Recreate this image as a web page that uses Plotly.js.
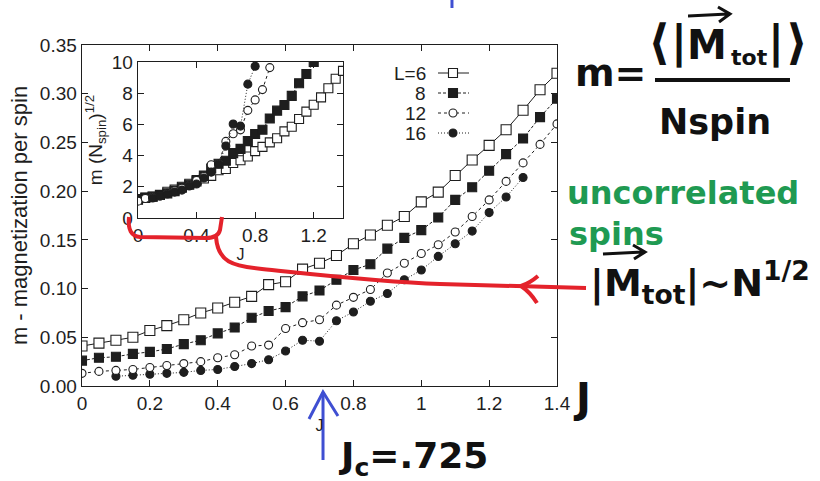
<!DOCTYPE html>
<html><head><meta charset="utf-8">
<script src="https://cdn.plot.ly/plotly-3.0.1.min.js"></script>
<style>html,body{margin:0;padding:0;background:#fff}#chart{width:820px;height:481px}</style>
</head><body><div id="chart"></div>
<script>
// ---- main plot data: m (magnetization per spin) vs J ----
const J = [0,0.05,0.1,0.15,0.2,0.25,0.3,0.35,0.4,0.45,0.5,0.55,0.6,0.65,0.7,0.75,0.8,0.85,0.9,0.95,1.0,1.05,1.1,1.15,1.2,1.25,1.3,1.35,1.4];
const m_L6  = [0.041,0.044,0.047,0.050,0.057,0.062,0.068,0.075,0.080,0.086,0.092,0.104,0.107,0.120,0.126,0.134,0.146,0.155,0.165,0.174,0.189,0.199,0.216,0.232,0.247,0.263,0.283,0.304,0.321];
const m_L8  = [0.026,0.029,0.030,0.033,0.035,0.038,0.043,0.047,0.054,0.060,0.070,0.077,0.081,0.092,0.098,0.109,0.119,0.125,0.141,0.152,0.160,0.173,0.191,0.204,0.221,0.238,0.254,0.276,0.295];
const m_L12 = [0.013,0.015,0.016,0.017,0.019,0.021,0.023,0.025,0.029,0.032,0.041,0.042,0.059,0.065,0.068,0.083,0.091,0.099,0.116,0.126,0.136,0.145,0.158,0.174,0.191,0.210,0.229,0.248,0.269];
const J_L16 = [0.1,0.15,0.2,0.25,0.3,0.35,0.4,0.45,0.5,0.55,0.6,0.65,0.7,0.75,0.8,0.85,0.9,0.95,1.0,1.05,1.1,1.15,1.2,1.25,1.3];
const m_L16 = [0.010,0.011,0.012,0.013,0.014,0.016,0.017,0.020,0.023,0.027,0.036,0.047,0.046,0.067,0.076,0.087,0.095,0.109,0.119,0.133,0.146,0.159,0.178,0.194,0.214];

// ---- inset data: m (N_spin)^1/2 vs J ----
const Jin_L6  = [0,0.05,0.1,0.15,0.2,0.25,0.3,0.35,0.4,0.45,0.5,0.55,0.6,0.65,0.7,0.75,0.8,0.85,0.9,0.95,1.0,1.05,1.1,1.15,1.2,1.25,1.3,1.35,1.4];
const in_L6   = [1.21,1.29,1.38,1.47,1.68,1.82,2.00,2.20,2.35,2.53,2.70,3.06,3.14,3.53,3.70,3.94,4.29,4.56,4.85,5.11,5.55,5.85,6.35,6.82,7.26,7.73,8.32,8.93,9.43];
const Jin_L8  = [0,0.05,0.1,0.15,0.2,0.25,0.3,0.35,0.4,0.45,0.5,0.55,0.6,0.65,0.7,0.75,0.8,0.85,0.9,0.95,1.0,1.05,1.1,1.15,1.2];
const in_L8   = [1.18,1.31,1.36,1.49,1.58,1.72,1.95,2.13,2.44,2.72,3.17,3.48,3.67,4.16,4.43,4.93,5.38,5.66,6.38,6.88,7.24,7.83,8.64,9.23,10.0];
const Jin_L12 = [0,0.05,0.1,0.15,0.2,0.25,0.3,0.35,0.4,0.45,0.5,0.55,0.6,0.65,0.7,0.75,0.8,0.85,0.9];
const in_L12  = [1.08,1.25,1.33,1.41,1.58,1.75,1.91,2.08,2.41,2.66,3.41,3.49,4.91,5.40,5.65,6.90,7.57,8.23,9.64];
const Jin_L16 = [0.1,0.15,0.2,0.25,0.3,0.35,0.4,0.45,0.5,0.55,0.6,0.65,0.7,0.75,0.8];
const in_L16  = [1.28,1.41,1.54,1.66,1.79,2.05,2.18,2.56,2.94,3.46,4.61,6.02,5.89,8.58,9.73];

// ---- tick labels ----
const xTickVals = [0,0.2,0.4,0.6,0.8,1.0,1.2,1.4];
const xTickText = ['0','0.2','0.4','0.6','0.8','1','1.2','1.4'];
const yTickVals = [0,0.05,0.1,0.15,0.2,0.25,0.3,0.35];
const yTickText = ['0.00','0.05','0.10','0.15','0.20','0.25','0.30','0.35'];
const inXTickVals = [0,0.4,0.8,1.2];
const inXTickText = ['0','0.4','0.8','1.2'];
const inYTickVals = [0,2,4,6,8,10];
const inYTickText = ['0','2','4','6','8','10'];
const legendLabels = ['L=6','8','12','16'];

// ---- styling ----
const INK = '#1e1e1e';
const RED = '#e4222b', BLUE = '#3f4fd2', GREEN = '#1f9a52';
const HAND = 'DejaVu Sans';
const SANS = 'Liberation Sans, Arial, sans-serif';
const styles = [
  {dash:'solid', symbol:'square', fill:'#ffffff', size:10},
  {dash:'3px,2px', symbol:'square', fill:INK, size:9},
  {dash:'dot', symbol:'circle', fill:'#ffffff', size:8},
  {dash:'1px,2px', symbol:'circle', fill:INK, size:8}
];

// pixel -> paper helpers (plot area 82..557 x 45..386)
const PL=82, PR=557, PT=45, PB=386;
const px = x => (x-PL)/(PR-PL);
const py = y => (PB-y)/(PB-PT);
function path(segs){
  return segs.map(s=>{let o=s[0];for(let i=1;i<s.length;i+=2){o+=' '+px(s[i]).toFixed(4)+','+py(s[i+1]).toFixed(4);}return o;}).join(' ');
}

function mk(x,y,st,xa,ya,msize){
  return {x:x,y:y,xaxis:xa,yaxis:ya,type:'scatter',mode:'lines+markers',showlegend:false,
    line:{color:INK,width:1,dash:st.dash},
    marker:{symbol:st.symbol,size:msize||st.size,color:st.fill,line:{color:INK,width:1.1}},
    cliponaxis:true, hoverinfo:'skip'};
}
const traces = [
  mk(J_L16,m_L16,styles[3],'x','y'), mk(J,m_L12,styles[2],'x','y'),
  mk(J,m_L8,styles[1],'x','y'), mk(J,m_L6,styles[0],'x','y'),
  mk(Jin_L6,in_L6,styles[0],'x2','y2',9), mk(Jin_L8,in_L8,styles[1],'x2','y2',9),
  mk(Jin_L12,in_L12,styles[2],'x2','y2',8), mk(Jin_L16,in_L16,styles[3],'x2','y2',8)
];

const tickFontMain = {family:SANS, size:19, color:INK};
const tickFontIn = {family:SANS, size:19, color:INK};
const axBase = {ticks:'inside', ticklen:6, tickwidth:1, tickcolor:INK, showline:true, linecolor:INK, linewidth:1.4,
  mirror:'ticks', showgrid:false, zeroline:false};

const shapes = [];
const annotations = [];
// custom legend (text left, key right)
legendLabels.forEach((lab,i)=>{
  const y = 73 + 20*i;
  const st = styles[i];
  shapes.push({type:'line', xref:'paper', yref:'paper', x0:px(438), x1:px(469), y0:py(y), y1:py(y),
    line:{color:INK, width:1, dash:st.dash}});
  const r = st.symbol==='square' ? 4.5 : 4;
  shapes.push({type: st.symbol==='square'?'rect':'circle', xref:'paper', yref:'paper',
    x0:px(453-r), x1:px(453+r), y0:py(y-r), y1:py(y+r), fillcolor:st.fill, line:{color:INK,width:1.1}});
  annotations.push({xref:'paper', yref:'paper', x:px(428), y:py(y), xanchor:'right', yanchor:'middle', showarrow:false,
    text:lab, font:{family:SANS, size:19, color:INK}});
});

function pen(segs,color,w){
  shapes.push({type:'path', xref:'paper', yref:'paper', line:{color:color,width:w}, layer:'above', path:path(segs)});
}
// red hand-drawn annotation
pen([['M',129,217],['Q',127,236,140,237],['L',206,238],['Q',218,238,220,230],['L',222,217]],RED,4);
pen([['M',216,237],['C',218,262,232,266,262,269],['C',320,275,380,282,440,284],['L',586,288]],RED,4);
pen([['M',538,276],['Q',530,283,521,286],['Q',530,292,537,303]],RED,4);
// blue arrow at Jc
pen([['M',323,392],['L',323,460]],BLUE,3);
pen([['M',309,419],['L',323,392],['L',338,416]],BLUE,3);
pen([['M',452,0],['L',452,8]],BLUE,3);
// fraction bar
pen([['M',655,80],['L',790,80]],'#111',4);
// arrows over M
pen([['M',688,16],['L',728,14],['M',718,7],['L',730,14],['L',719,22]],'#111',3);
pen([['M',603,254],['L',643,252],['M',633,245],['L',645,252],['L',634,259]],'#111',3);

function txt(x,y,t,size,color,anchor){
  annotations.push({xref:'paper', yref:'paper', x:px(x), y:py(y), xanchor:anchor||'center', yanchor:'middle',
    showarrow:false, text:t, font:{family:HAND, size:size, color:color, weight:'bold'}});
}
txt(610,73,'m=',38,'#111');
txt(659,42,'⟨',48,'#111');
txt(679,42,'|',44,'#111');
txt(707,45,'M',40,'#111');
txt(729,58,'tot',22,'#111','left');
txt(776,42,'|',44,'#111');
txt(797,42,'⟩',48,'#111');
txt(715,122,'Nspin',35,'#111');
txt(565,193,'uncorrelated',32,GREEN,'left');
txt(567,234,'spins',32,GREEN,'left');
txt(700,282,'|M<sub>tot</sub>|~N<sup>1/2</sup>',38,'#111');
txt(582,398,'J',40,'#111');
txt(413,458,'J<sub>c</sub>=.725',36,'#111');

const layout = {
  width:820, height:481,
  margin:{l:PL, r:820-PR, t:PT, b:481-PB, pad:0},
  paper_bgcolor:'#ffffff', plot_bgcolor:'#ffffff',
  showlegend:false,
  xaxis: Object.assign({}, axBase, {domain:[0,1], anchor:'y', range:[0,1.4], tickmode:'array', tickvals:xTickVals, ticktext:xTickText,
    tickfont:tickFontMain, title:{text:'J', font:{family:SANS, size:16, color:INK}, standoff:6}}),
  yaxis: Object.assign({}, axBase, {domain:[0,1], anchor:'x', range:[0,0.35], tickmode:'array', tickvals:yTickVals, ticktext:yTickText,
    tickfont:tickFontMain, title:{text:'m - magnetization per spin', font:{family:SANS, size:22, color:INK}, standoff:6}}),
  xaxis2: Object.assign({}, axBase, {domain:[px(138),px(343)], anchor:'y2', range:[0,1.4], tickmode:'array', tickvals:inXTickVals, ticktext:inXTickText,
    tickfont:tickFontIn, title:{text:'J', font:{family:SANS, size:16, color:INK}, standoff:2}}),
  yaxis2: Object.assign({}, axBase, {domain:[py(218),py(62)], anchor:'x2', range:[0,10], tickmode:'array', tickvals:inYTickVals, ticktext:inYTickText,
    tickfont:tickFontIn, title:{text:'m (N<sub>spin</sub>)<sup>1/2</sup>', font:{family:SANS, size:19, color:INK}, standoff:4}}),
  shapes: shapes,
  annotations: annotations
};
Plotly.newPlot('chart', traces, layout, {staticPlot:true, displayModeBar:false});
</script></body></html>
